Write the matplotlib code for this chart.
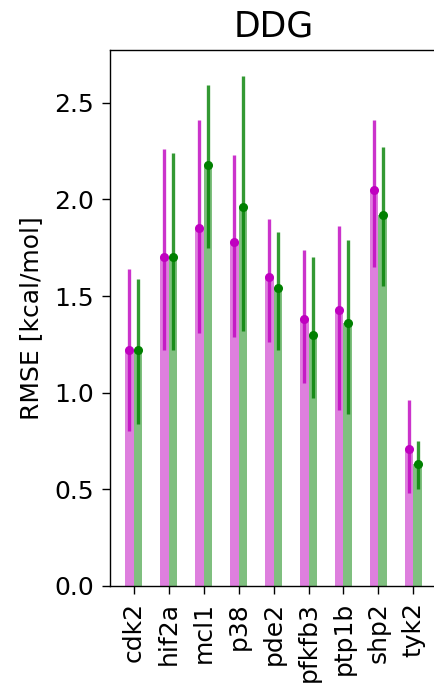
import numpy as np
import matplotlib
matplotlib.use('Agg')
import matplotlib.pyplot as plt

# targets on the x axis
targets = ['cdk2', 'hif2a', 'mcl1', 'p38', 'pde2', 'pfkfb3', 'ptp1b', 'shp2', 'tyk2']

# RMSE and confidence interval for the first method (magenta)
rmse_a = [1.22, 1.70, 1.85, 1.78, 1.60, 1.38, 1.43, 2.05, 0.71]
low_a = [0.80, 1.22, 1.31, 1.29, 1.26, 1.05, 0.91, 1.65, 0.48]
high_a = [1.64, 2.26, 2.41, 2.23, 1.90, 1.74, 1.86, 2.41, 0.96]

# RMSE and confidence interval for the second method (green)
rmse_b = [1.22, 1.70, 2.18, 1.96, 1.54, 1.30, 1.36, 1.92, 0.63]
low_b = [0.84, 1.22, 1.75, 1.32, 1.22, 0.97, 0.89, 1.55, 0.50]
high_b = [1.59, 2.24, 2.59, 2.64, 1.83, 1.70, 1.79, 2.27, 0.75]

x = np.arange(len(targets))
w = 0.25

fig = plt.figure(figsize=(4.34, 6.84), dpi=100)
ax = fig.add_axes([0.2535, 0.1433, 0.7535, 0.7836])

for vals, lo, hi, col, off in [(rmse_a, low_a, high_a, 'm', -w / 2),
                               (rmse_b, low_b, high_b, 'g', w / 2)]:
    vals = np.array(vals)
    yerr = [vals - np.array(lo), np.array(hi) - vals]
    ax.bar(x + off, vals, width=w, color=col, alpha=0.5)
    ax.errorbar(x + off, vals, yerr=yerr, fmt='none', ecolor=col,
                elinewidth=2.4, alpha=0.8)
    ax.plot(x + off, vals, 'o', color=col, markersize=5.5)

ax.set_xlim(-0.675, 8.675)
ax.set_ylim(0, 2.773)
ax.set_xticks(x)
ax.set_xticklabels(targets, rotation=90, fontsize=18)
ax.set_yticks([0.0, 0.5, 1.0, 1.5, 2.0, 2.5])
ax.tick_params(axis='both', labelsize=18, length=5.5, width=1.0, pad=6)
for s in ax.spines.values():
    s.set_linewidth(1.0)
ax.set_ylabel('RMSE [kcal/mol]', fontsize=18, labelpad=8)
ax.set_title('DDG', fontsize=25, pad=9.5)

plt.savefig('out.png', dpi=100)
